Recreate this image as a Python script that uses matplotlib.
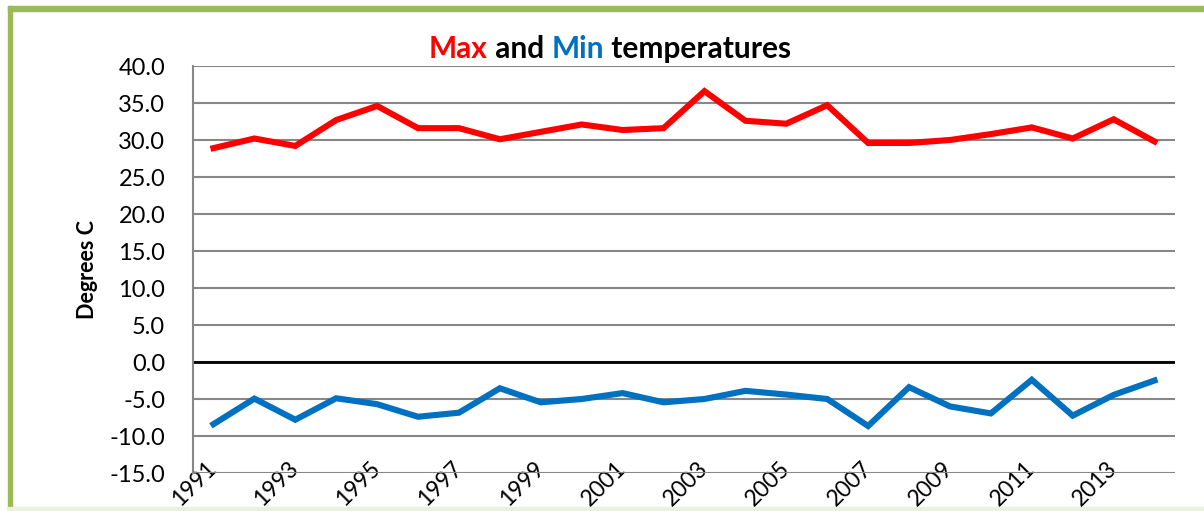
import matplotlib
matplotlib.use("Agg")
import matplotlib.pyplot as plt
from matplotlib.patches import Rectangle

years = list(range(1991, 2015))
max_temp = [28.9, 30.2, 29.2, 32.7, 34.6, 31.6, 31.6, 30.1, 31.1, 32.1, 31.35, 31.6,
            36.6, 32.6, 32.2, 34.7, 29.6, 29.6, 30.0, 30.8, 31.7, 30.2, 32.8, 29.8]
min_temp = [-8.4, -4.95, -7.8, -4.9, -5.7, -7.4, -6.85, -3.55, -5.45, -5.0, -4.2, -5.45,
            -5.0, -3.9, -4.4, -5.0, -8.65, -3.4, -6.0, -6.95, -2.4, -7.25, -4.45, -2.5]
y_ticks = [40, 35, 30, 25, 20, 15, 10, 5, 0, -5, -10, -15]
x_labels = [str(y) if (y - 1991) % 2 == 0 else "" for y in years]

RED = "#FF0000"
BLUE = "#0070C0"
FONT = "Lato"

plt.rcParams['font.family'] = [FONT, 'DejaVu Sans']

W, H = 1204, 511
fig = plt.figure(figsize=(W / 100, H / 100), dpi=100)
fig.patch.set_facecolor("white")

# green frame
fig.patches.append(Rectangle((8 / W, 1 - 11 / H), 1 - 8 / W, 5 / H, transform=fig.transFigure,
                             color="#9BBB59", zorder=0))
fig.patches.append(Rectangle((8 / W, 0), 4 / W, 1 - 6 / H, transform=fig.transFigure,
                             color="#9BBB59", zorder=0))
fig.patches.append(Rectangle((8 / W, 0), 1 - 8 / W, 4 / H, transform=fig.transFigure,
                             color="#EBF1DE", zorder=0))

ax = fig.add_axes([193 / W, 1 - 473 / H, (1175 - 193) / W, (473 - 66) / H])
ax.patch.set_alpha(0)
x = list(range(len(years)))
ax.plot(x, max_temp, color=RED, lw=4.4, solid_joinstyle="miter", zorder=3)
ax.plot(x, min_temp, color=BLUE, lw=4.4, solid_joinstyle="miter", zorder=3)

ax.set_xlim(-0.5, len(years) - 0.5)
ax.set_ylim(-15, 40)
ax.set_yticks(y_ticks)
ax.set_yticklabels([f"{v:.1f}" for v in y_ticks], fontsize=17)
ax.set_xticks(x)
ax.set_xticklabels(x_labels, fontsize=16.5, rotation=45, ha="right", va="center",
                   rotation_mode="anchor")
ax.tick_params(axis="y", length=0, pad=20)
ax.tick_params(axis="x", length=0, pad=-6)

ax.grid(axis="y", color="#878787", lw=1.5, zorder=1)
ax.axhline(0, color="black", lw=2, zorder=2)
for s in ["top", "right", "bottom"]:
    ax.spines[s].set_visible(False)
ax.spines["left"].set_color("#878787")
ax.spines["left"].set_linewidth(1.5)

ax.set_ylabel("Degrees C", fontsize=15.5, fontweight="bold", labelpad=8)

# multicolour title
fig.canvas.draw()
r = fig.canvas.get_renderer()
parts = [("Max", RED), (" and ", "black"), ("Min", BLUE), (" temperatures", "black")]
texts = []
for s, c in parts:
    t = fig.text(0, 1 - 58 / H, s, color=c, fontsize=21.5, fontweight="bold", va="baseline")
    texts.append(t)
widths = [t.get_window_extent(r).width for t in texts]
total = sum(widths)
start = 610 - total / 2
for t, w in zip(texts, widths):
    t.set_x(start / W)
    start += w

fig.savefig("out.png", dpi=100)
